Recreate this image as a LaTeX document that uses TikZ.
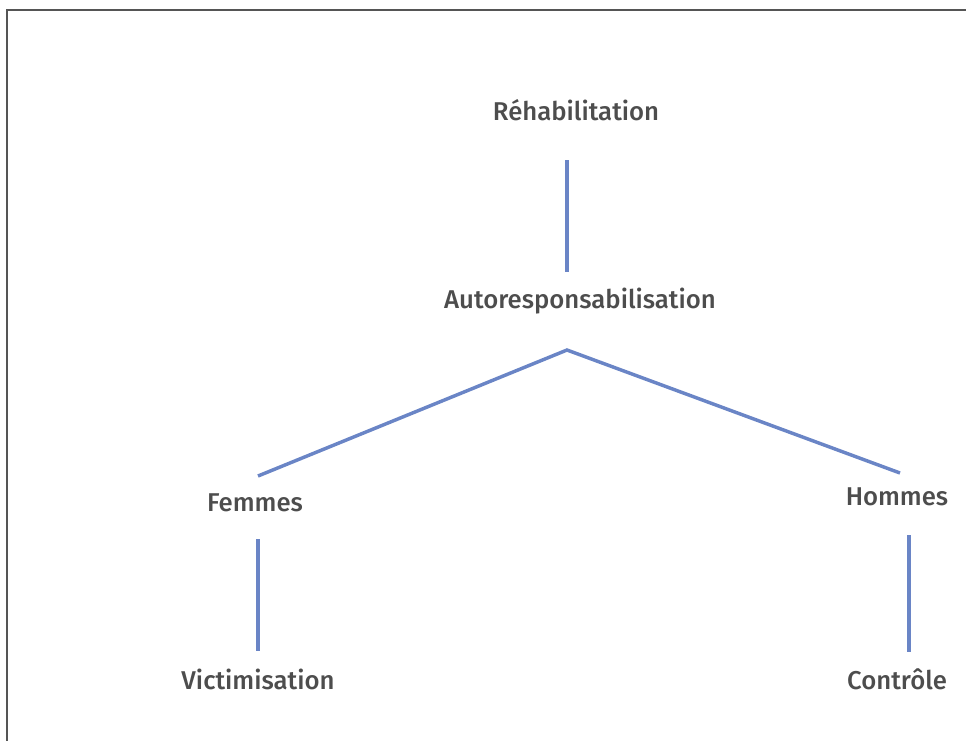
\documentclass[tikz,border=0pt]{standalone}
\usepackage{fontspec}
\setmainfont{Fira Sans}[UprightFont=* Medium]
\usetikzlibrary{positioning}
\definecolor{linkblue}{HTML}{6A85C6}
\definecolor{labelgrey}{HTML}{4D4D4D}
\definecolor{framegrey}{HTML}{555555}
\tikzset{
	term/.style={text=labelgrey, font=\fontsize{19.3}{22}\selectfont, inner sep=0pt},
	link/.style={draw=linkblue, line width=2.6pt},
	frame/.style={draw=framegrey, line width=1.6pt}
}
\begin{document}
\begin{tikzpicture}[x=0.75pt, y=-0.75pt]
	\useasboundingbox (0,0) rectangle (966,740);
	\draw[frame] (7,760) -- (7,10) -- (990,10);
	
	\node[term] (reh) at (576,110) {Réhabilitation};
	\node[term] (auto) at (580,301) {Autoresponsabilisation};
	\node[term] (fem) at (255,503) {Femmes};
	\node[term] (hom) at (897,497) {Hommes};
	\node[term] (vic) at (258,679) {Victimisation};
	\node[term] (con) at (897,679) {Contrôle};
	
	\coordinate (rehB) at (567,160);
	\coordinate (autoT) at (567,272);
	\coordinate (apex) at (567,350);
	\coordinate (femT) at (258,476);
	\coordinate (homT) at (900,473);
	\coordinate (femB) at (258,539);
	\coordinate (vicT) at (258,651);
	\coordinate (homB) at (909,535);
	\coordinate (conT) at (909,652);
	
	\draw[link] (rehB) -- (autoT);
	\draw[link] (femT) -- (apex) -- (homT);
	\draw[link] (femB) -- (vicT);
	\draw[link] (homB) -- (conT);
\end{tikzpicture}
\end{document}
